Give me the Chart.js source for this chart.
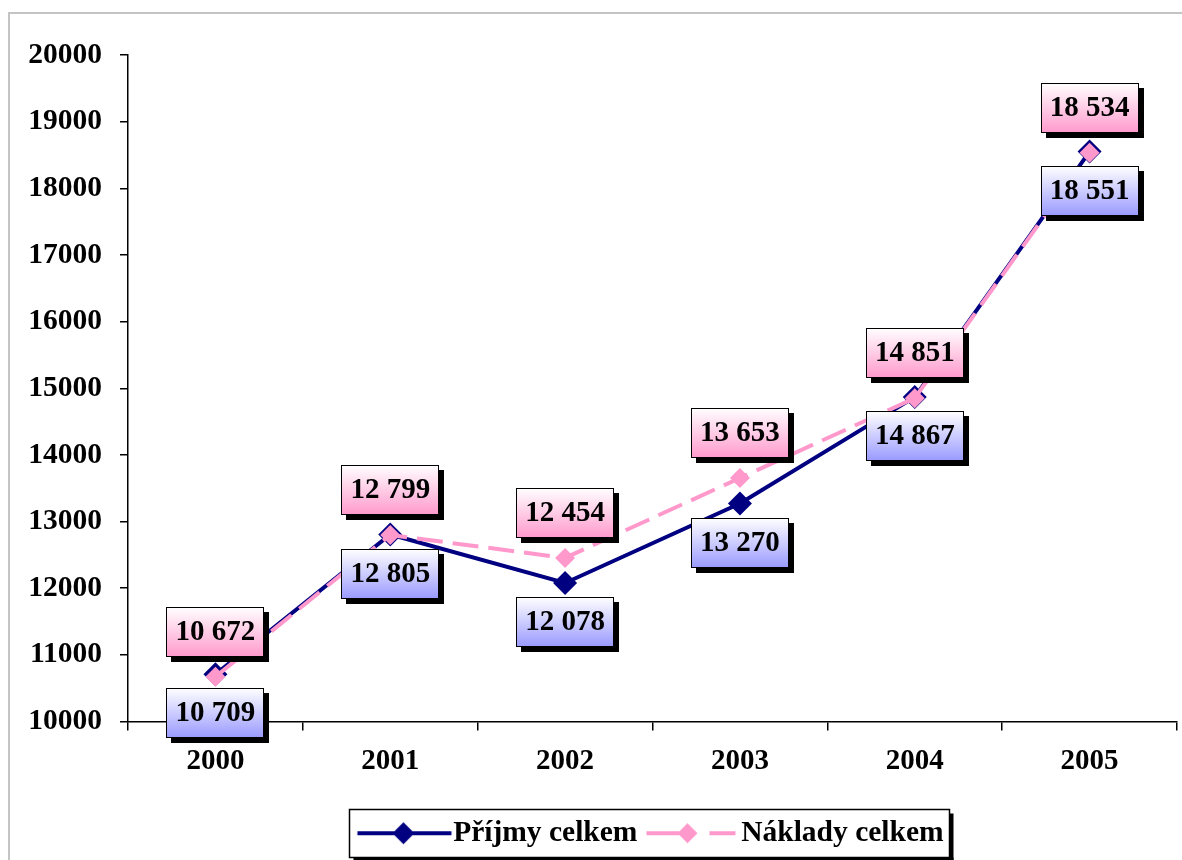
<!DOCTYPE html>
<html>
<head>
<meta charset="utf-8">
<script src="https://cdn.jsdelivr.net/npm/chart.js@4/dist/chart.umd.min.js"></script>
<style>
  html, body { margin: 0; padding: 0; background: #fff; }
  #wrap { width: 1182px; height: 860px; position: relative; }
</style>
</head>
<body>
<div id="wrap"><canvas id="c" width="1182" height="860"></canvas></div>
<script>
const years = ['2000', '2001', '2002', '2003', '2004', '2005'];
const prijmy = [10709, 12805, 12078, 13270, 14867, 18551];
const naklady = [10672, 12799, 12454, 13653, 14851, 18534];
const seriesNames = ['Příjmy celkem', 'Náklady celkem'];
const yMin = 10000, yMax = 20000, yStep = 1000;

const NAVY = '#000080';
const PINK = '#ff99cc';
const FONT = '"Liberation Serif", "Times New Roman", serif';
const LEG_FONT = 29.5;
const LEG_W = 77;

function fmt(v) {
  return String(v).replace(/\B(?=(\d{3})+(?!\d))/g, ' ');
}

function diamond(g, cx, cy, r, color) {
  g.fillStyle = color;
  g.beginPath();
  g.moveTo(cx - r, cy); g.lineTo(cx, cy - r); g.lineTo(cx + r, cy); g.lineTo(cx, cy + r);
  g.closePath(); g.fill();
}

function legendIcon(kind) {
  const c = document.createElement('canvas');
  c.width = 106; c.height = 28;
  const g = c.getContext('2d');
  g.lineWidth = 4;
  const cy = 14;
  if (kind === 0) {
    g.strokeStyle = NAVY;
    g.beginPath(); g.moveTo(10.5, cy); g.lineTo(104.5, cy); g.stroke();
    diamond(g, 56.5, cy, 11, NAVY);
  } else {
    g.strokeStyle = PINK;
    g.beginPath(); g.moveTo(11.5, cy); g.lineTo(52.5, cy); g.stroke();
    g.beginPath(); g.moveTo(74.5, cy); g.lineTo(100.5, cy); g.stroke();
    diamond(g, 52.5, cy, 10, PINK);
  }
  return c;
}

const frame = {
  id: 'frame',
  beforeDraw(chart) {
    const ctx = chart.ctx;
    ctx.save();
    ctx.strokeStyle = '#c4c4c4';
    ctx.lineWidth = 2;
    ctx.strokeRect(9, 13, 1200, 900);
    ctx.restore();
  }
};

const boxLabels = {
  id: 'boxLabels',
  afterDatasetsDraw(chart) {
    const ctx = chart.ctx;
    ctx.save();
    ctx.font = 'bold 29px ' + FONT;
    ctx.textAlign = 'center';
    ctx.textBaseline = 'middle';
    chart.data.datasets.forEach((ds, di) => {
      const meta = chart.getDatasetMeta(di);
      meta.data.forEach((pt, i) => {
        const txt = fmt(ds.data[i]);
        const w = Math.round(ctx.measureText(txt).width + 18);
        const h = 50;
        const x = Math.round(pt.x - w / 2);
        const y = Math.round(di === 0 ? pt.y + 14 : pt.y - 20 - h);
        ctx.fillStyle = '#000';
        ctx.fillRect(x + 5, y + 5, w, h);
        const grad = ctx.createLinearGradient(0, y, 0, y + h);
        grad.addColorStop(0, '#ffffff');
        grad.addColorStop(1, di === 0 ? '#9999ff' : '#ff99cc');
        ctx.fillStyle = grad;
        ctx.fillRect(x, y, w, h);
        ctx.strokeStyle = '#000';
        ctx.lineWidth = 1;
        ctx.strokeRect(x + 0.5, y + 0.5, w - 1, h - 1);
        ctx.fillStyle = '#000';
        ctx.fillText(txt, pt.x, y + h / 2 + 1);
      });
    });
    ctx.restore();
  }
};

const legendBox = {
  id: 'legendBox',
  afterDraw(chart) {
    const lg = chart.legend;
    if (!lg || !lg.legendHitBoxes.length) return;
    const hb = lg.legendHitBoxes;
    let l = Infinity, r = -Infinity;
    hb.forEach(b => { l = Math.min(l, b.left); r = Math.max(r, b.left + b.width); });
    const cy = lg.top + lg.options.labels.padding + LEG_FONT / 2;
    const x = Math.round(l - 12) + 0.5, w = Math.round(r + 6 - l + 12);
    const y = Math.round(cy - 24) + 0.5, h = 48;
    const ctx = chart.ctx;
    ctx.save();
    ctx.fillStyle = '#000';
    ctx.fillRect(x + 4, y + h, w, 4);
    ctx.fillRect(x + w, y + 4, 4, h);
    ctx.strokeStyle = '#000';
    ctx.lineWidth = 1.5;
    ctx.strokeRect(x, y, w, h);
    ctx.restore();
  }
};

const icons = [legendIcon(0), legendIcon(1)];

new Chart(document.getElementById('c'), {
  type: 'line',
  data: {
    labels: years,
    datasets: [
      {
        label: seriesNames[0],
        data: prijmy,
        borderColor: NAVY,
        backgroundColor: NAVY,
        borderWidth: 4,
        pointStyle: 'rectRot',
        pointRadius: 12,
        pointBorderWidth: 0,
        pointBackgroundColor: NAVY,
        tension: 0,
        order: 1
      },
      {
        label: seriesNames[1],
        data: naklady,
        borderColor: PINK,
        backgroundColor: PINK,
        borderWidth: 4,
        borderDash: [26, 10],
        pointStyle: 'rectRot',
        pointRadius: 10,
        pointBorderWidth: 0,
        pointBackgroundColor: PINK,
        tension: 0,
        order: 0
      }
    ]
  },
  options: {
    responsive: false,
    animation: false,
    devicePixelRatio: 1,
    layout: { autoPadding: false, padding: { left: 0, right: 5, top: 55, bottom: 2 } },
    scales: {
      x: {
        offset: true,
        grid: { offset: true, drawOnChartArea: false, drawTicks: true, tickLength: 9, color: '#000', lineWidth: 1.5 },
        border: { color: '#000', width: 1.5 },
        ticks: { color: '#000', font: { family: FONT, size: 29, weight: 'bold' }, padding: 14, maxRotation: 0 },
        afterFit(s) { s.height = 85; s.paddingLeft = 0; s.paddingRight = 0; }
      },
      y: {
        min: yMin, max: yMax,
        grid: { drawOnChartArea: false, drawTicks: true, tickLength: 8, color: '#000', lineWidth: 1.5 },
        border: { color: '#000', width: 1.5 },
        ticks: { stepSize: yStep, color: '#000', font: { family: FONT, size: 29.5, weight: 'bold' }, padding: 18, callback: v => String(v) },
        afterFit(s) { s.width = 128; }
      }
    },
    plugins: {
      tooltip: { enabled: false },
      legend: {
        position: 'bottom',
        fullSize: false,
        labels: {
          usePointStyle: true,
          pointStyleWidth: LEG_W,
          padding: 12,
          color: '#000',
          font: { family: FONT, size: LEG_FONT, weight: 'bold' },
          sort: (a, b) => a.datasetIndex - b.datasetIndex,
          generateLabels(chart) {
            return chart.data.datasets.map((ds, i) => ({
              text: ds.label,
              datasetIndex: i,
              pointStyle: icons[i],
              fillStyle: ds.borderColor,
              strokeStyle: ds.borderColor,
              lineWidth: 0,
              fontColor: '#000',
              hidden: false
            }));
          }
        }
      }
    }
  },
  plugins: [frame, boxLabels, legendBox]
});
</script>
</body>
</html>
